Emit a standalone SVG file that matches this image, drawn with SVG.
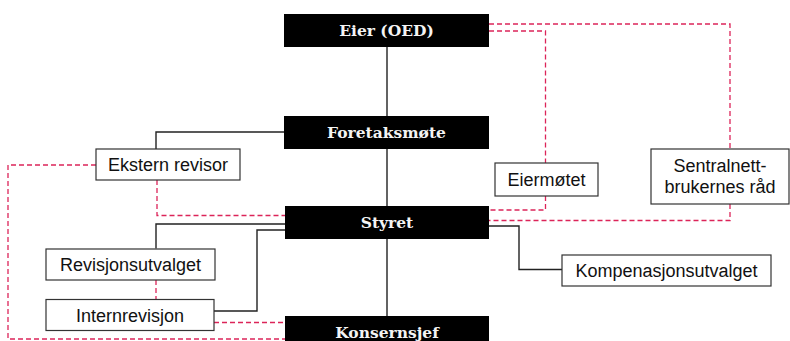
<svg xmlns="http://www.w3.org/2000/svg" width="790" height="341" viewBox="0 0 790 341">
<style>
.hd{fill:#000}
.hdt{fill:#f4f4f4;font-family:"DejaVu Serif",serif;font-weight:bold;font-size:15.5px;text-anchor:middle}
.bx{fill:#fff;stroke:#333;stroke-width:1.2}
.bxt{fill:#111;font-family:"Liberation Sans",Arial,sans-serif;font-size:18px;text-anchor:middle}
.ln{fill:none;stroke:#222;stroke-width:1.4}
.dl{fill:none;stroke:#dc2459;stroke-width:1.3;stroke-dasharray:5 3}
</style>
<rect width="790" height="341" fill="#fff"/>
<g id="connectors">
<path class="ln" d="M387,47 V116 M387,149 V206 M387,239 V316"/>
<path class="ln" d="M156,149 V132 H284"/>
<path class="ln" d="M156,248.5 V224 H285"/>
<path class="ln" d="M214,311 H257 V230 H285"/>
<path class="ln" d="M489,226 H519 V269.5 H562"/>
<path class="dl" d="M489,24 H730 V149"/>
<path class="dl" d="M489,31 H545.5 V163"/>
<path class="dl" d="M545.5,196 V210 H489"/>
<path class="dl" d="M730,204 V220.5 H489"/>
<path class="dl" d="M157,180 V215.5 H285"/>
<path class="dl" d="M96,165 H8 V339 H285"/>
<path class="dl" d="M156,280 V299"/>
<path class="dl" d="M214,322.5 H285"/>
</g>
<g id="eier"><rect class="hd" x="284" y="14" width="205" height="33"/><text class="hdt" x="386.5" y="36">Eier (OED)</text></g>
<g id="foretaksmote"><rect class="hd" x="284" y="116" width="205" height="33"/><text class="hdt" x="386.5" y="138">Foretaksmøte</text></g>
<g id="styret"><rect class="hd" x="285" y="206" width="204" height="33"/><text class="hdt" x="387" y="228">Styret</text></g>
<g id="konsernsjef"><rect class="hd" x="285" y="316" width="204" height="33"/><text class="hdt" x="387" y="338">Konsernsjef</text></g>
<g id="ekstern"><rect class="bx" x="96" y="149" width="144" height="31"/><text class="bxt" x="168" y="171">Ekstern revisor</text></g>
<g id="eiermotet"><rect class="bx" x="495" y="163" width="103" height="33"/><text class="bxt" x="546.5" y="186">Eiermøtet</text></g>
<g id="sentralnett"><rect class="bx" x="651" y="149" width="138" height="55"/><text class="bxt" x="720" y="171.5">Sentralnett-</text><text class="bxt" x="720" y="192.5">brukernes råd</text></g>
<g id="revisjonsutvalget"><rect class="bx" x="46" y="249" width="169" height="31"/><text class="bxt" x="130.5" y="271">Revisjonsutvalget</text></g>
<g id="internrevisjon"><rect class="bx" x="46" y="299.5" width="168" height="31"/><text class="bxt" x="130" y="321.5">Internrevisjon</text></g>
<g id="kompenasjonsutvalget"><rect class="bx" x="562" y="255" width="209" height="31"/><text class="bxt" x="666.5" y="277">Kompenasjonsutvalget</text></g>
</svg>
